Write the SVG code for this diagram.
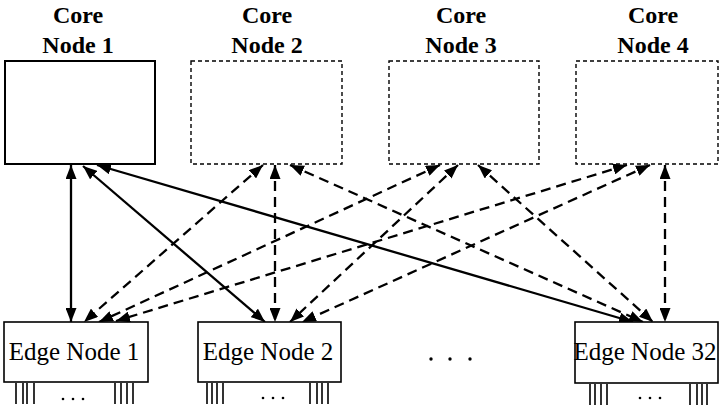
<svg xmlns="http://www.w3.org/2000/svg" width="720" height="413" viewBox="0 0 720 413">
<style>
.title{font-family:"Liberation Serif","Times New Roman",serif;font-weight:bold;font-size:24px;text-anchor:middle;fill:#000}
.lbl{font-family:"Liberation Serif","Times New Roman",serif;font-size:25px;text-anchor:middle;fill:#000}
.solidbox{fill:#fff;stroke:#000;stroke-width:2}
.dashbox{fill:#fff;stroke:#000;stroke-width:1.4;stroke-dasharray:4 3}
.edgebox{fill:#fff;stroke:#000;stroke-width:1.6}
.c{fill:none;stroke:#000;stroke-width:2.3;marker-start:url(#ah);marker-end:url(#ah)}
.d{stroke-dasharray:10 6}
.tick{stroke:#000;stroke-width:1.6}
.dot{fill:#000}
</style>
<defs>
<marker id="ah" viewBox="0 0 14 11" refX="14" refY="5.5" markerWidth="14" markerHeight="11" markerUnits="userSpaceOnUse" orient="auto-start-reverse">
<path d="M0,0 L14,5.5 L0,11 z" fill="#000"/>
</marker>
</defs>

<g id="core1">
<rect class="solidbox" x="5" y="61" width="150" height="103"/>
<text class="title" x="78" y="23">Core</text>
<text class="title" x="78" y="53">Node 1</text>
</g>
<g id="core2">
<rect class="dashbox" x="191" y="61" width="151" height="103"/>
<text class="title" x="267" y="23">Core</text>
<text class="title" x="267" y="53">Node 2</text>
</g>
<g id="core3">
<rect class="dashbox" x="389" y="61" width="150" height="103"/>
<text class="title" x="461" y="23">Core</text>
<text class="title" x="461" y="53">Node 3</text>
</g>
<g id="core4">
<rect class="dashbox" x="576" y="61" width="142" height="103"/>
<text class="title" x="653" y="23">Core</text>
<text class="title" x="653" y="53">Node 4</text>
</g>

<g id="connectors">
<line class="c" x1="71" y1="165" x2="71" y2="322"/>
<line class="c" x1="83" y1="166" x2="265" y2="322"/>
<line class="c" x1="97" y1="165" x2="633" y2="322"/>
<line class="c d" x1="263" y1="165" x2="84" y2="322"/>
<line class="c d" x1="275" y1="165" x2="275" y2="322"/>
<line class="c d" x1="290" y1="165" x2="643" y2="322"/>
<line class="c d" x1="440" y1="165" x2="99" y2="322"/>
<line class="c d" x1="458" y1="165" x2="290" y2="322"/>
<line class="c d" x1="478" y1="165" x2="653" y2="322"/>
<line class="c d" x1="627" y1="165" x2="116" y2="321"/>
<line class="c d" x1="650" y1="165" x2="302" y2="322"/>
<line class="c d" x1="665" y1="165" x2="665" y2="322"/>
</g>

<g id="edge1">
<rect class="edgebox" x="4" y="322" width="144" height="60"/>
<text class="lbl" x="74" y="360">Edge Node 1</text>
<path class="tick" d="M16,383V404M23,383V404M27,383V404M34,383V404M115,383V404M121,383V404M127,383V404M133,383V404"/>
<circle class="dot" cx="63" cy="399" r="1.3"/><circle class="dot" cx="73" cy="399" r="1.3"/><circle class="dot" cx="83" cy="399" r="1.3"/>
</g>
<g id="edge2">
<rect class="edgebox" x="198" y="322" width="143" height="60"/>
<text class="lbl" x="268" y="360">Edge Node 2</text>
<path class="tick" d="M207,383V404M212,383V404M217,383V404M223,383V404M310,383V404M317,383V404M322,383V404M328,383V404"/>
<circle class="dot" cx="263" cy="398" r="1.3"/><circle class="dot" cx="273" cy="398" r="1.3"/><circle class="dot" cx="283" cy="398" r="1.3"/>
</g>
<g id="edge32">
<rect class="edgebox" x="575" y="322" width="143" height="61"/>
<text class="lbl" x="645" y="360">Edge Node 32</text>
<path class="tick" d="M590,384V405M595,384V405M601,384V405M607,384V405M690,384V405M697,384V405M702,384V405M707,384V405"/>
<circle class="dot" cx="640" cy="398" r="1.3"/><circle class="dot" cx="650" cy="398" r="1.3"/><circle class="dot" cx="660" cy="398" r="1.3"/>
</g>
<g id="ellipsis">
<circle class="dot" cx="431" cy="359" r="1.7"/><circle class="dot" cx="450" cy="359" r="1.7"/><circle class="dot" cx="470" cy="359" r="1.7"/>
</g>
</svg>
